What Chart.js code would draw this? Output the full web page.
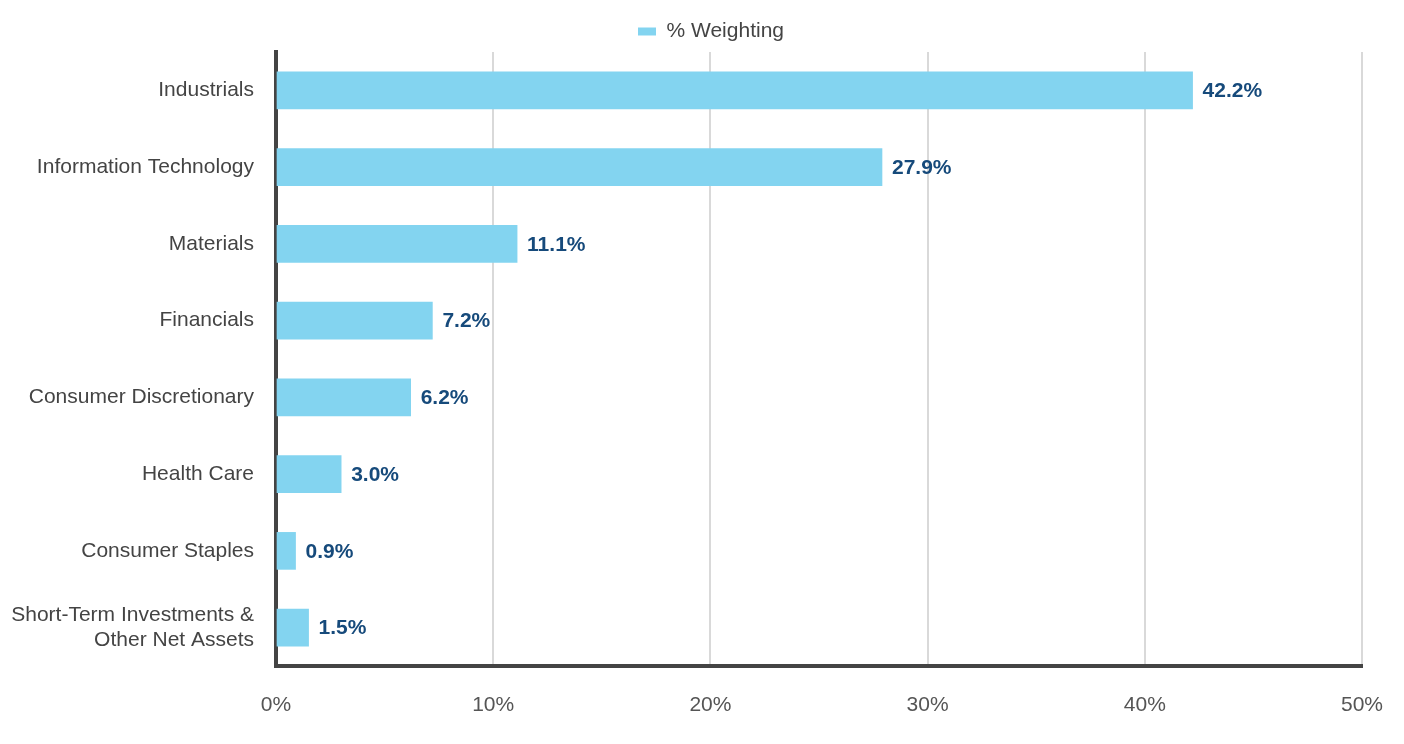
<!DOCTYPE html>
<html>
<head>
<meta charset="utf-8">
<script src="https://cdn.jsdelivr.net/npm/chart.js@4/dist/chart.umd.min.js"></script>
<style>
  html, body { margin: 0; padding: 0; background: #fff; }
  #wrap { width: 1404px; height: 744px; }
</style>
</head>
<body>
<div id="wrap"><canvas id="mychart"></canvas></div>
<script>
const sectors = [
    'Industrials',
    'Information Technology',
    'Materials',
    'Financials',
    'Consumer Discretionary',
    'Health Care',
    'Consumer Staples',
    ['Short-Term Investments &', 'Other Net Assets']
];
const weighting = [42.2, 27.9, 11.1, 7.2, 6.2, 3.0, 0.9, 1.5];
const xTicks = [0, 10, 20, 30, 40, 50];

Chart.defaults.font.family = '"Liberation Sans", Arial, sans-serif';
Chart.defaults.font.size = 21;
Chart.defaults.color = '#444';

// value labels at the end of each bar
const barLabels = {
    id: 'barLabels',
    afterLayout(chart) {
        // legend sits a bit right of the canvas centre
        chart.legend.left = 18;
    },
    afterDatasetsDraw(chart) {
        const c = chart.ctx;
        const meta = chart.getDatasetMeta(0);
        c.save();
        c.font = 'bold 21px "Liberation Sans", Arial, sans-serif';
        c.fillStyle = '#164a7b';
        c.textBaseline = 'middle';
        c.textAlign = 'left';
        meta.data.forEach((bar, i) => {
            c.fillText(weighting[i].toFixed(1) + '%', bar.x + 10, bar.y + 1);
        });
        c.restore();
    }
};

const ctx = document.getElementById('mychart').getContext('2d');
let myChart = new Chart(ctx, {
    type: 'bar',
    data: {
        labels: sectors,
        datasets: [
            {
                label: '% Weighting',
                data: weighting,
                backgroundColor: '#83d4f0',
                borderWidth: 0,
                barThickness: 37
            }
        ]
    },
    options: {
        indexAxis: 'y',
        responsive: true,
        maintainAspectRatio: false,
        animation: false,
        layout: { padding: { top: 4, right: 0, left: 0, bottom: 0 } },
        plugins: {
            legend: {
                position: 'top',
                labels: { boxWidth: 18, boxHeight: 8, padding: 17, color: '#444' }
            },
            tooltip: { enabled: false }
        },
        scales: {
            x: {
                min: 0,
                max: 50,
                afterBuildTicks: s => { s.ticks = xTicks.map(v => ({ value: v })); },
                afterFit: s => { s.height = 78; s.paddingRight = 42; },
                ticks: {
                    callback: v => v + '%',
                    padding: 27,
                    color: '#555'
                },
                grid: { color: '#d9d9d9', lineWidth: 2, drawTicks: false },
                border: { display: true, color: '#444', width: 4 }
            },
            y: {
                afterFit: s => { s.width = 276; },
                ticks: { padding: 22, color: '#444' },
                grid: { display: false, drawTicks: false },
                border: { display: true, color: '#444', width: 4 }
            }
        }
    },
    plugins: [barLabels]
});
</script>
</body>
</html>
